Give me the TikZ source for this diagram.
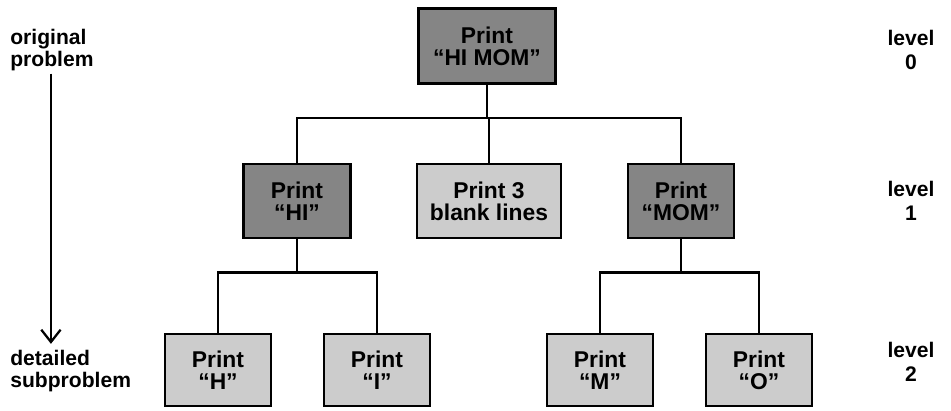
\documentclass[tikz,border=0pt]{standalone}
\usepackage{fontspec}
\setmainfont{Liberation Sans}
\usetikzlibrary{arrows.meta}
\begin{document}
\begin{tikzpicture}[x=0.02cm,y=-0.02cm,
    darkbox/.style ={draw, line width=1.6pt, fill=black!48, inner sep=0pt,
      align=center, font=\fontsize{13}{12.5}\selectfont\bfseries},
    lightbox/.style ={darkbox, fill=black!20},
    sidetext/.style ={align=left, inner sep=0pt, font=\fontsize{12}{12.5}\selectfont\bfseries},
    leveltext/.style ={align=center, inner sep=0pt, font=\fontsize{12}{14}\selectfont\bfseries},
    link/.style ={line width=1.3pt}]
   \useasboundingbox (0,0) rectangle (951,410);

   \node[darkbox, minimum width=2.74cm, minimum height=1.5cm] (top) at (487,46) {Print\\``HI MOM''};

   \node[darkbox, minimum width=2.14cm, minimum height=1.48cm] (hi) at (297,201) {Print\\``HI''};
   \node[lightbox, minimum width=2.88cm, minimum height=1.48cm] (blank) at (489,201) {Print 3\\blank lines};
   \node[darkbox, minimum width=2.12cm, minimum height=1.48cm] (mom) at (681,201) {Print\\``MOM''};

   \node[lightbox, minimum width=2.12cm, minimum height=1.44cm] (h) at (218,370) {Print\\``H''};
   \node[lightbox, minimum width=2.12cm, minimum height=1.44cm] (i) at (377,370) {Print\\``I''};
   \node[lightbox, minimum width=2.12cm, minimum height=1.44cm] (m) at (600,370) {Print\\``M''};
   \node[lightbox, minimum width=2.12cm, minimum height=1.44cm] (o) at (759,370) {Print\\``O''};

   \node[sidetext, anchor=west] (orig) at (10,50) {original\\problem};
   \node[sidetext, anchor=west] (det) at (10,371) {detailed\\subproblem};
   \node[leveltext] (lev0) at (911,50) {level\\0};
   \node[leveltext] (lev1) at (911,201) {level\\1};
   \node[leveltext] (lev2) at (911,362) {level\\2};

   \draw[link] (top.south) -- ++(0,33) -| (hi.north);
   \draw[link] (top.south) -- ++(0,33) -| (mom.north);
   \draw[link] (top.south) -- ++(0,33) -| (blank.north);
   \draw[link] (hi.south) -- ++(0,33) -| (h.north);
   \draw[link] (hi.south) -- ++(0,33) -| (i.north);
   \draw[link] (mom.south) -- ++(0,33) -| (m.north);
   \draw[link] (mom.south) -- ++(0,33) -| (o.north);

   \draw[link, -{Straight Barb[length=7pt, width=11pt]}] ([xshift=-0.02cm, yshift=-0.05cm]orig.south) -- ([xshift=-0.02cm, yshift=0.12cm]det.north -| orig.south);
 \end{tikzpicture}
\end{document}
